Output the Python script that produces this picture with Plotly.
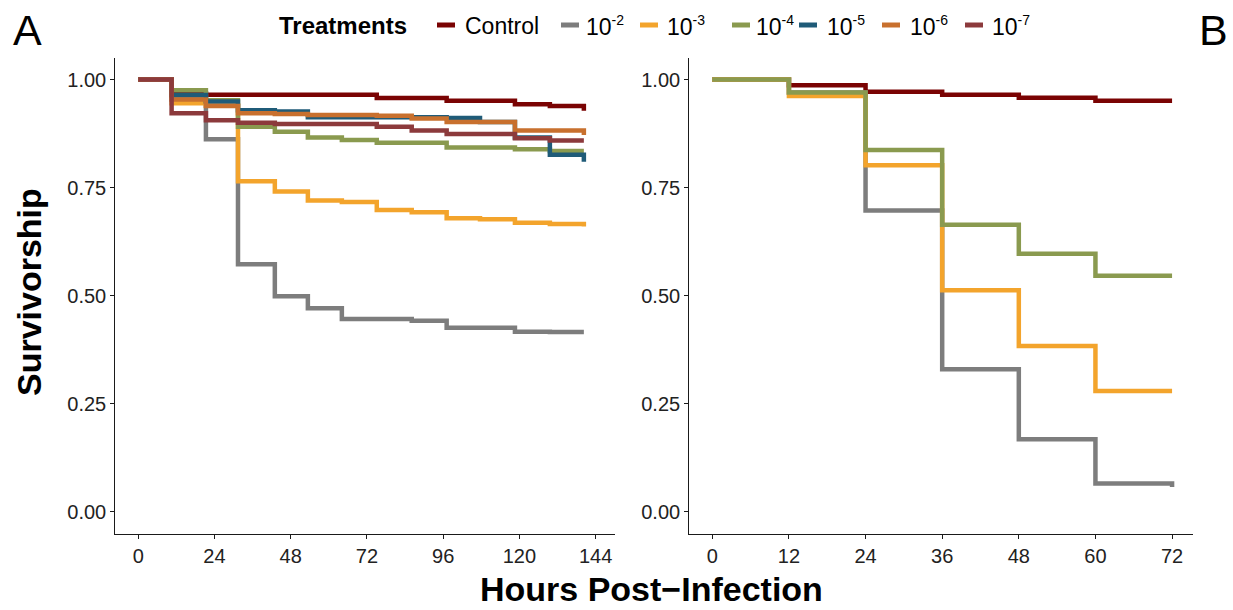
import plotly.graph_objects as go

# Observation times (hours post-infection)
hours_a = [0, 10.5, 21.3, 31.4, 43.0, 53.4, 64.1, 75.1, 86.1, 97.1, 107.6, 118.6, 129.6, 140.3]
hours_b = [0, 12, 24, 36, 48, 60, 72]

exponents = ["-2", "-3", "-4", "-5", "-6", "-7"]
treatments = ["Control"] + ["10<sup><span style='font-size:14px'>%s</span></sup>" % e for e in exponents]
colors = ["#7a0303", "#7d7d7d", "#f3a42c", "#8a9a4f", "#1f5b78", "#c8702e", "#8c3a3c"]

# Panel A survivorship (Kaplan-Meier steps)
surv_a_control = [1.0, 0.968, 0.965, 0.965, 0.965, 0.965, 0.965, 0.957, 0.957, 0.951, 0.951, 0.943, 0.939, 0.928]
surv_a_e2 = [1.0, 0.962, 0.862, 0.573, 0.499, 0.471, 0.446, 0.446, 0.442, 0.426, 0.426, 0.417, 0.416, 0.416]
surv_a_e3 = [1.0, 0.945, 0.940, 0.765, 0.741, 0.720, 0.717, 0.698, 0.693, 0.679, 0.677, 0.669, 0.666, 0.660]
surv_a_e4 = [1.0, 0.975, 0.952, 0.891, 0.879, 0.866, 0.860, 0.854, 0.854, 0.843, 0.843, 0.839, 0.835, 0.835]
surv_a_e5 = [1.0, 0.964, 0.949, 0.929, 0.926, 0.913, 0.913, 0.913, 0.913, 0.911, 0.902, 0.866, 0.826, 0.810]
surv_a_e6 = [1.0, 0.954, 0.939, 0.922, 0.920, 0.918, 0.918, 0.916, 0.910, 0.902, 0.902, 0.882, 0.882, 0.872]
surv_a_e7 = [1.0, 0.922, 0.906, 0.900, 0.897, 0.897, 0.897, 0.891, 0.882, 0.874, 0.874, 0.864, 0.859, 0.859]

# Panel B survivorship
surv_b_control = [1.0, 0.987, 0.972, 0.965, 0.958, 0.951, 0.951]
surv_b_e2 = [1.0, 0.970, 0.697, 0.330, 0.168, 0.066, 0.058]
surv_b_e3 = [1.0, 0.962, 0.802, 0.513, 0.384, 0.280, 0.280]
surv_b_e4 = [1.0, 0.970, 0.837, 0.664, 0.597, 0.546, 0.546]

panel_a = [surv_a_control, surv_a_e2, surv_a_e3, surv_a_e4, surv_a_e5, surv_a_e6, surv_a_e7]
panel_b = [surv_b_control, surv_b_e2, surv_b_e3, surv_b_e4]

W, H = 1233, 610
FONT = "Liberation Sans, Arial, sans-serif"
LW = 4.5

fig = go.Figure()
for name, col, ys in zip(treatments, colors, panel_a):
    fig.add_trace(go.Scatter(x=hours_a, y=ys, mode="lines", line=dict(color=col, width=LW, shape="hv"),
                             name=name, showlegend=False, xaxis="x", yaxis="y"))
for name, col, ys in zip(treatments, colors, panel_b):
    fig.add_trace(go.Scatter(x=hours_b, y=ys, mode="lines", line=dict(color=col, width=LW, shape="hv"),
                             name=name, showlegend=False, xaxis="x2", yaxis="y2"))

def px(v):
    return v / W

def py(v):
    return 1 - v / H

axis_common = dict(showline=True, linecolor="#1a1a1a", linewidth=1.3, ticks="outside", ticklen=4,
                   tickwidth=1.2, tickcolor="#1a1a1a", showgrid=False, zeroline=False,
                   tickfont=dict(family=FONT, size=20, color="#222222"), automargin=False, fixedrange=True)

ydom = [py(533.6), py(57.9)]
fig.update_layout(
    width=W, height=H, margin=dict(l=0, r=0, t=0, b=0),
    paper_bgcolor="white", plot_bgcolor="white",
    xaxis=dict(domain=[px(115.4), px(615.3)], range=[-7.2, 150.2], tickvals=[0, 24, 48, 72, 96, 120, 144],
               anchor="y", **axis_common),
    yaxis=dict(domain=ydom, range=[-0.05, 1.05], tickvals=[0, 0.25, 0.5, 0.75, 1.0], tickformat=".2f",
               anchor="x", **axis_common),
    xaxis2=dict(domain=[px(689.3), px(1192.5)], range=[-3.6, 75.2], tickvals=[0, 12, 24, 36, 48, 60, 72],
                anchor="y2", **axis_common),
    yaxis2=dict(domain=ydom, range=[-0.05, 1.05], tickvals=[0, 0.25, 0.5, 0.75, 1.0], tickformat=".2f",
                anchor="x2", **axis_common),
)

annotations = [
    dict(text="A", x=px(11), y=py(30), xanchor="left", yanchor="middle",
         font=dict(family=FONT, size=43, color="black")),
    dict(text="B", x=px(1197), y=py(30), xanchor="left", yanchor="middle",
         font=dict(family=FONT, size=43, color="black")),
    dict(text="<b>Survivorship</b>", x=px(29), y=py(292), xanchor="center", yanchor="middle", textangle=-90,
         font=dict(family=FONT, size=34, color="black")),
    dict(text="<b>Hours Post\u2212Infection</b>", x=px(651), y=py(589), xanchor="center", yanchor="middle",
         font=dict(family=FONT, size=34, color="black")),
    dict(text="<b>Treatments</b>", x=px(277), y=py(25), xanchor="left", yanchor="middle",
         font=dict(family=FONT, size=24, color="black")),
]

# Legend keys: swatch start and label start (pixels)
swatch_x = [437, 561, 640, 732, 799, 882, 965]
label_x = [463, 584, 665, 754, 825, 908, 990]
shapes = []
for name, col, sx, lx in zip(treatments, colors, swatch_x, label_x):
    shapes.append(dict(type="line", xref="paper", yref="paper", x0=px(sx), x1=px(sx + 18),
                       y0=py(25), y1=py(25), line=dict(color=col, width=5)))
    annotations.append(dict(text=name, x=px(lx), y=py(26), xanchor="left", yanchor="middle",
                            font=dict(family=FONT, size=23, color="black")))

for a in annotations:
    a.update(xref="paper", yref="paper", showarrow=False)
fig.update_layout(annotations=annotations, shapes=shapes)

fig.write_html("out.html")
